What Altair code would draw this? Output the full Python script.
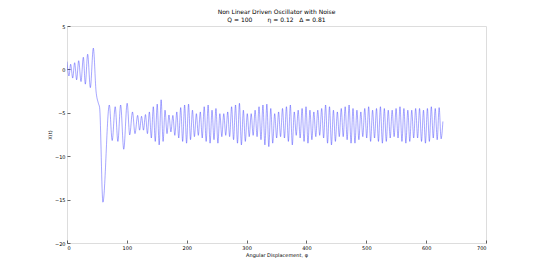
import altair as alt
import pandas as pd

# ---- data ----
transient_x = [0, 3.3, 6.1, 9.5, 12.8, 16.1, 19.5, 23.4, 27.3, 30.6, 34.5, 39, 44,
               48.5, 52.4, 54.5, 60, 70.7, 75.5, 80.5, 85, 89.6, 94.8, 100.5,
               104.8, 109.4, 113.6]
transient_v = [0.9, -0.76, 0.6, -1.0, 0.77, -1.2, 1.0, -1.4, 1.4, -1.7, 1.75, -2.1, 2.45,
               -2.5, -3.9, -4.4, -15.3, -4.1, -8.2, -4.3, -8.3, -4.1, -9.2, -3.9,
               -7.55, -4.9, -7.4]

steady_peaks = [
    -5.3, -5.4, -5.2, -4.9, -4.3, -4.0, -3.5, -4.7, -5.25, -5.3, -4.9, -4.4, -4.1, -4.0, -4.7, -5.1, -4.9, -4.3, -4.1, -4.7,
    -4.5, -5.1, -5.1, -4.9, -4.3, -4.1, -3.9, -4.7, -5.1, -5.1, -4.7, -4.3, -4.1, -4.0, -4.5, -5.1, -4.9, -4.5, -4.3, -4.1,
    -4.9, -4.7, -4.5, -4.3, -4.7, -4.9, -4.7, -4.5, -4.1, -4.3, -4.7, -4.9, -4.5, -4.3, -4.1, -4.5, -4.7, -4.9, -4.5, -4.3,
    -4.7, -4.5, -4.3, -4.5, -4.7, -4.7, -4.5, -4.3, -4.5, -4.7, -4.7, -4.5, -4.5, -4.7, -4.5, -4.3, -4.5, -4.4,
]
steady_troughs = [
    -7.0, -7.0, -7.4, -7.9, -8.3, -8.7, -8.3, -7.4, -7.2, -7.6, -7.9, -8.3, -8.5, -8.1, -7.75, -7.6, -7.9, -8.3, -8.5, -8.1,
    -8.5, -7.75, -7.6, -7.75, -8.1, -8.5, -8.7, -8.3, -7.75, -7.6, -7.75, -8.1, -8.7, -8.9, -8.5, -7.9, -7.75, -7.9, -8.3, -8.7,
    -7.6, -7.9, -8.3, -8.5, -8.1, -7.75, -7.6, -7.9, -8.5, -8.7, -8.3, -7.75, -7.75, -8.1, -8.5, -8.5, -8.1, -7.75, -7.9, -8.3,
    -7.9, -8.3, -8.5, -8.3, -7.9, -7.75, -7.9, -8.3, -8.5, -8.3, -7.9, -7.9, -8.3, -8.5, -8.3, -7.9, -8.1, -8.0,
]
steady_start_x = 118.0
steady_last_x = 625.0
final_x = 628.0
final_v = -6.0

x_ticks = [0, 100, 200, 300, 400, 500, 600, 700]
y_ticks = [5, 0, -5, -10, -15, -20]

# ---- build table ----
n = len(steady_peaks)
half = (steady_last_x - steady_start_x) / (2 * n - 1)
xs = list(transient_x)
vs = list(transient_v)
for i in range(n):
    xs.append(steady_start_x + (2 * i) * half)
    vs.append(steady_peaks[i])
    xs.append(steady_start_x + (2 * i + 1) * half)
    vs.append(steady_troughs[i])
xs.append(final_x)
vs.append(final_v)
df = pd.DataFrame({"phi": xs, "x": vs})

FONT = "DejaVu Sans"
W, H = 419, 217

xscale = alt.Scale(domain=[0, 700], nice=False, zero=False)
yscale = alt.Scale(domain=[-20, 5], nice=False, zero=False)

line = alt.Chart(df).mark_line(
    color="#2222ff", strokeWidth=0.4, interpolate="monotone", clip=True
).encode(
    x=alt.X("phi:Q", scale=xscale,
            axis=alt.Axis(values=x_ticks, title="Angular Displacement, φ",
                          tickSize=0, domain=False, grid=False,
                          labelPadding=2, titlePadding=2,
                          labelFontSize=5, titleFontSize=5, labelFont=FONT,
                          titleFont=FONT, titleFontWeight="normal",
                          labelColor="#000", titleColor="#000")),
    y=alt.Y("x:Q", scale=yscale,
            axis=alt.Axis(values=y_ticks, title="X(t)", tickSize=0, domain=False,
                          grid=False, labelPadding=2, titlePadding=2,
                          labelFontSize=5, titleFontSize=5, labelFont=FONT,
                          titleFont=FONT, titleFontWeight="normal",
                          labelColor="#000", titleColor="#000")),
)

ticks_layer = alt.Chart(df).mark_line(opacity=0).encode(
    x=alt.X("phi:Q", scale=xscale,
            axis=alt.Axis(orient="top", offset=-H, values=x_ticks, labels=False,
                          title=None, domain=False, grid=False, tickSize=3,
                          tickColor="#000", tickWidth=0.6)),
    y=alt.Y("x:Q", scale=yscale,
            axis=alt.Axis(orient="right", offset=-W, values=y_ticks, labels=False,
                          title=None, domain=False, grid=False, tickSize=3,
                          tickColor="#000", tickWidth=0.6)),
)

sp = "\u00a0"
chart = alt.layer(line, ticks_layer).resolve_axis(
    x="independent", y="independent"
).properties(
    width=W, height=H,
    autosize=alt.AutoSizeParams(type="none"),
    padding={"left": 67, "top": 26, "right": 54, "bottom": 28},
    title=alt.TitleParams(
        text=["Non Linear Driven Oscillator with Noise",
              f"Q = 100{sp*8}η = 0.12{sp*3}Δ = 0.81"],
        fontSize=6, font=FONT, fontWeight="normal", color="#000000",
        lineHeight=8, anchor="middle", offset=1,
    ),
).configure_view(
    stroke="#000", strokeWidth=0.6
).configure(background="white")

chart.save("out.html", embed_options={"renderer": "svg", "actions": False})
